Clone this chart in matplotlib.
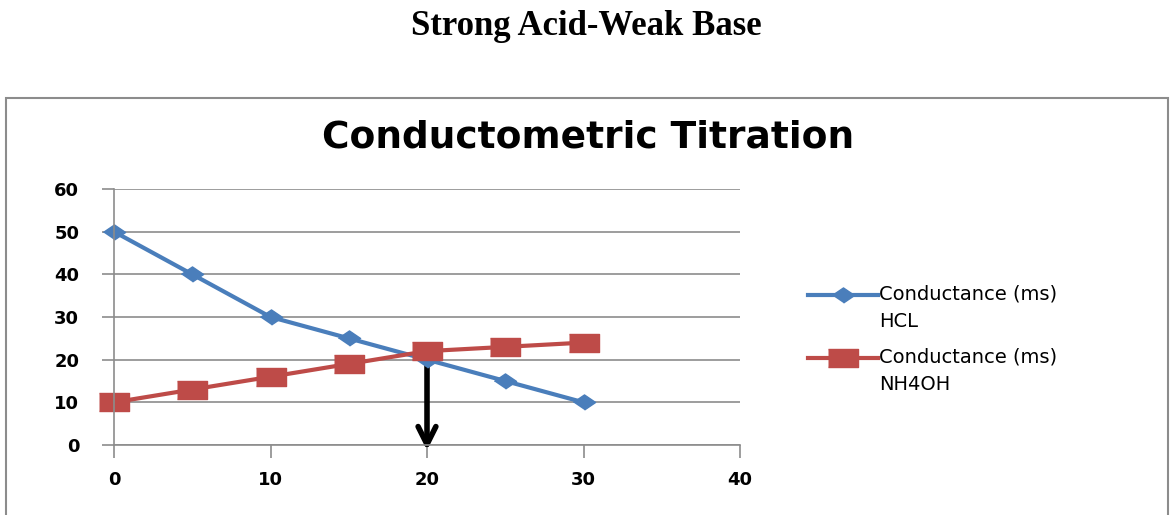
import numpy as np
import matplotlib.pyplot as plt
from matplotlib.patches import Rectangle
from matplotlib.legend_handler import HandlerLine2D

# data
volume = [0, 5, 10, 15, 20, 25, 30]
hcl = [50, 40, 30, 25, 20, 15, 10]
nh4oh = [10, 13, 16, 19, 22, 23, 24]
labels = ['Conductance (ms)\nHCL', 'Conductance (ms)\nNH4OH']
x_ticks = [0, 10, 20, 30, 40]
y_ticks = [0, 10, 20, 30, 40, 50, 60]
end_point = 20

# the source image is stretched sideways, so use flattened markers
flat_diamond = [(-1, 0), (0, 0.68), (1, 0), (0, -0.68)]
flat_square = [(-1, -0.64), (1, -0.64), (1, 0.64), (-1, 0.64)]


class FirstLineHandler(HandlerLine2D):
    # put the legend handle level with the first text line
    def create_artists(self, legend, orig_handle, xdescent, ydescent,
                       width, height, fontsize, trans):
        arts = super().create_artists(legend, orig_handle, xdescent, ydescent,
                                      width, height, fontsize, trans)
        for a in arts:
            a.set_ydata(np.asarray(a.get_ydata()) + 9.5)
        return arts


fig = plt.figure(figsize=(11.71, 5.15), dpi=100)

# outer chart border (gray box like excel)
fig.patches.append(Rectangle((6 / 1171, -0.1), 1162 / 1171, 1.1 - 98 / 515,
                             transform=fig.transFigure, fill=False,
                             edgecolor='#8c8c8c', linewidth=1.5))

fig.text(0.501, 0.948, 'Strong Acid-Weak Base', ha='center', va='center',
         family='Liberation Serif', fontweight='bold', fontsize=25)
fig.text(0.502, 0.733, 'Conductometric Titration', ha='center', va='center',
         fontweight='bold', fontsize=27, family='DejaVu Sans')

ax = fig.add_axes([114 / 1171, 1 - 445 / 515, 626 / 1171, 256 / 515])

ax.plot(volume, hcl, color='#4a7ebb', marker=flat_diamond, markersize=16,
        linewidth=3, label=labels[0])
ax.plot(volume, nh4oh, color='#be4b48', marker=flat_square, markersize=21,
        linewidth=3, label=labels[1])

# end point arrow (sits under the markers)
ax.annotate('', xy=(end_point, -1.3), xytext=(end_point, 20.5),
            annotation_clip=False, zorder=1.5,
            arrowprops=dict(arrowstyle='->', color='black', lw=4,
                            mutation_scale=32, shrinkA=0, shrinkB=0))

ax.set_xlim(0, 40)
ax.set_ylim(0, 60)
ax.set_xticks(x_ticks)
ax.set_yticks(y_ticks)
ax.grid(axis='y', color='#8c8c8c', linewidth=1.2)
ax.set_axisbelow(True)
for s in ['top', 'right']:
    ax.spines[s].set_visible(False)
ax.spines['left'].set_color('#8c8c8c')
ax.spines['bottom'].set_color('#8c8c8c')
ax.spines['left'].set_linewidth(1.2)
ax.spines['bottom'].set_linewidth(1.2)
ax.tick_params(axis='both', colors='#8c8c8c', labelcolor='black',
               labelsize=13, length=9, width=1.2)
ax.tick_params(axis='x', pad=10)
ax.tick_params(axis='y', pad=16)
for t in ax.get_xticklabels() + ax.get_yticklabels():
    t.set_fontweight('bold')
for ln in ax.lines:
    ln.set_clip_on(False)

leg = fig.legend(loc='upper left', bbox_to_anchor=(790 / 1171, 1 - 267 / 515),
                 frameon=False, fontsize=14, handlelength=3.6,
                 labelspacing=0.85, handletextpad=0.1,
                 handler_map={ln: FirstLineHandler() for ln in ax.lines})
for t in leg.get_texts():
    t.set_linespacing(1.55)

fig.savefig('out.png', dpi=100)
